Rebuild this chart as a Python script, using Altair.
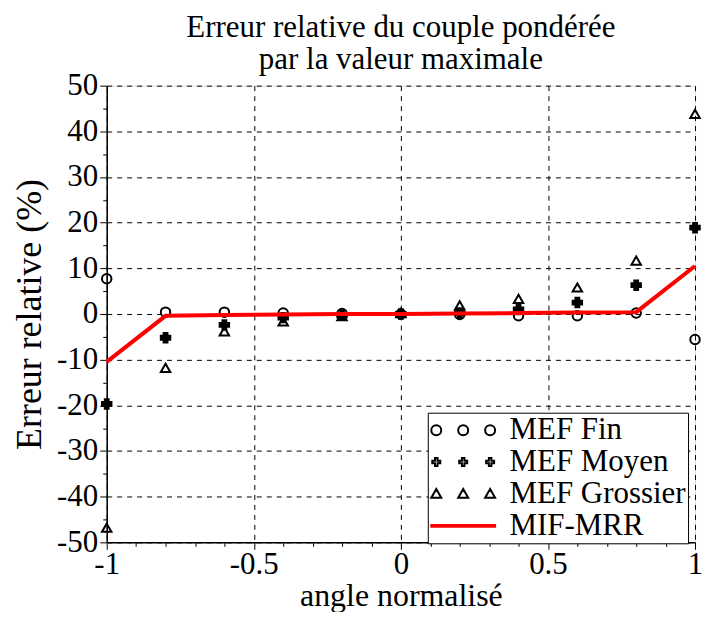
import altair as alt
import pandas as pd

# ---- data ----
angles = [-1.0, -0.8, -0.6, -0.4, -0.2, 0.0, 0.2, 0.4, 0.6, 0.8, 1.0]
mef_fin = [7.7, 0.4, 0.4, 0.2, 0.1, 0.0, -0.1, -0.4, -0.4, 0.2, -5.6]
mef_moyen = [-19.7, -5.2, -2.4, -0.8, -0.3, 0.0, 0.2, 1.0, 2.5, 6.3, 18.9]
mef_grossier = [-46.8, -11.8, -3.8, -1.6, -0.5, 0.2, 1.9, 3.3, 5.8, 11.7, 43.8]
mif_mrr = [-10.5, -0.4, -0.2, -0.1, 0.0, 0.0, 0.1, 0.2, 0.3, 0.4, 10.5]

series_names = ["MEF Fin", "MEF Moyen", "MEF Grossier", "MIF-MRR"]
x_ticks = [-1.0, -0.9, -0.8, -0.7, -0.6, -0.5, -0.4, -0.3, -0.2, -0.1, 0.0,
           0.1, 0.2, 0.3, 0.4, 0.5, 0.6, 0.7, 0.8, 0.9, 1.0]
y_ticks = [-50, -45, -40, -35, -30, -25, -20, -15, -10, -5, 0,
           5, 10, 15, 20, 25, 30, 35, 40, 45, 50]

rows = []
for name, vals in zip(series_names[:3], [mef_fin, mef_moyen, mef_grossier]):
    for a, v in zip(angles, vals):
        rows.append({"angle": a, "err": v, "serie": name})
pts = pd.DataFrame(rows)
line_df = pd.DataFrame({"angle": angles, "err": mif_mrr, "serie": "MIF-MRR"})
legend_df = pd.DataFrame({"angle": [0.0] * 4, "err": [0.0] * 4, "serie": series_names})

FONT = "Liberation Serif"

major_x = "abs(datum.value*2 - round(datum.value*2)) < 0.000001"
major_y = "abs(datum.value/10 - round(datum.value/10)) < 0.000001"


def make_axis(values, major, title, title_size, title_pad, label_pad):
    return alt.Axis(
        values=values,
        labelExpr=f"{major} ? '' + datum.value : ''",
        grid=True,
        gridDash=[5, 5],
        gridColor="black",
        gridOpacity={"condition": {"test": major, "value": 1}, "value": 0},
        tickSize={"condition": {"test": major, "value": 7}, "value": 4},
        tickColor="black",
        domainColor="black",
        domainWidth=1.5,
        labelFont=FONT, labelFontSize=31, labelColor="black", labelPadding=label_pad,
        labelOverlap=False, labelFlush=False,
        title=title, titleFont=FONT, titleFontSize=title_size,
        titleFontWeight="normal", titleColor="black", titlePadding=title_pad,
    )


x_axis = make_axis(x_ticks, major_x, "angle normalisé", 32, 1, 0)
y_axis = make_axis(y_ticks, major_y, "Erreur relative (%)", 36, 8, 2)

x_enc = alt.X("angle:Q", scale=alt.Scale(domain=[-1, 1], nice=False), axis=x_axis)
y_enc = alt.Y("err:Q", scale=alt.Scale(domain=[-50, 50], nice=False), axis=y_axis)

# single symbols for the data
stroke_range = ["black", "black", "black", "red"]
shape_range = ["circle", "cross", "triangle-up", "stroke"]
fill_range = ["transparent", "black", "transparent", "transparent"]


# triple symbols (Scilab-style legend), unit = sqrt(size)/2 px
def circ(cx):
    return f"M{cx+1},0A1,1,0,1,1,{cx-1},0A1,1,0,1,1,{cx+1},0Z"


def cross(cx):
    return (f"M{cx-0.8},-0.25H{cx-0.25}V-0.8H{cx+0.25}V-0.25H{cx+0.8}V0.25H{cx+0.25}"
            f"V0.8H{cx-0.25}V0.25H{cx-0.8}Z")


def tri(cx):
    return f"M{cx},-1L{cx+1},0.75L{cx-1},0.75Z"


centers = [-5.4, 0, 5.4]
leg_shapes = [
    "".join(circ(c) for c in centers),
    "".join(cross(c) for c in centers),
    "".join(tri(c) for c in centers),
    "M-6.4,-0.2H6.4V0.2H-6.4Z",
]

points = alt.Chart(pts).mark_point(size=90, strokeWidth=2, opacity=1).encode(
    x=x_enc, y=y_enc,
    stroke=alt.Stroke("serie:N", scale=alt.Scale(domain=series_names, range=stroke_range), legend=None),
    fill=alt.Fill("serie:N", scale=alt.Scale(domain=series_names, range=fill_range), legend=None),
    shape=alt.Shape("serie:N", scale=alt.Scale(domain=series_names, range=shape_range), legend=None),
)

line = alt.Chart(line_df).mark_line(strokeWidth=4).encode(
    x=x_enc, y=y_enc,
    stroke=alt.Stroke("serie:N", scale=alt.Scale(domain=series_names, range=stroke_range), legend=None),
)

legend = alt.Legend(
    title=None, orient="none", legendX=322, legendY=328,
    labelFont=FONT, labelFontSize=31, labelColor="black", labelLimit=400,
    strokeColor="black", fillColor="white", padding=2,
    symbolSize=100, symbolStrokeWidth=2, symbolOffset=18, labelOffset=31,
    rowPadding=0,
)

legend_layer = alt.Chart(legend_df).mark_point(size=100, opacity=0).encode(
    x=x_enc, y=y_enc,
    stroke=alt.Stroke("serie:N", scale=alt.Scale(domain=series_names, range=stroke_range), legend=legend),
    shape=alt.Shape("serie:N", scale=alt.Scale(domain=series_names, range=leg_shapes), legend=legend),
)

chart = alt.layer(points, line, legend_layer).resolve_scale(
    stroke="independent", fill="independent", shape="independent"
).properties(
    width=590, height=458,
    padding={"left": 3, "top": 3, "right": 0, "bottom": 0},
    title=alt.TitleParams(
        ["Erreur relative du couple pondérée", "par la valeur maximale"],
        font=FONT, fontSize=31, fontWeight="normal", color="black",
        anchor="middle", offset=-6, lineHeight=32,
    ),
).configure_view(stroke="black", strokeWidth=1.5).configure(background="white")

chart.save("out.html", embed_options={"renderer": "svg", "actions": False})
